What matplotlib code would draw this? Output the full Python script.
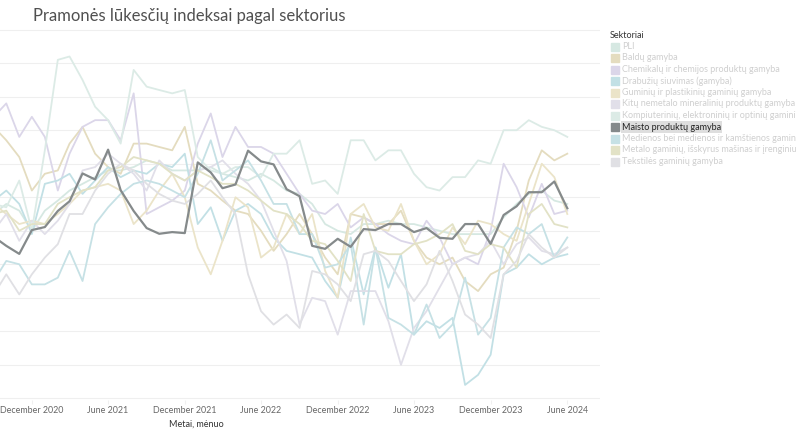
import pandas as pd
import matplotlib.pyplot as plt
import matplotlib.dates as mdates

plt.rcParams['font.family'] = ['Lato', 'DejaVu Sans']

# monthly index values, Sep 2020 - Jun 2024
months = pd.date_range("2020-09-01", "2024-06-01", freq="MS")

pli = [-5, -2, -4, -10, -4, -1, 2, 4, 6, 8, 8, 9, 11, 10, 8, 8, 8, 9, 7, 6, 5, 7, 5, 2, 1, -2,
       -8, -10, -11, -8, -8, -7, -8, -8, -9, -10, -11, -11, -11, -11, -6, -2, 1, 2, -1, -2]
baldu = [21, 17, 12, 2, 7, 8, 16, 21, 13, 9, 7, 16, 16, 15, 14, 21, 4, 2, -1, -4, -5, -10, -16,
         -11, -5, -11, -18, -23, -5, -6, -8, -8, -4, -13, -18, -20, -18, -25, -28, -23, -21, -10,
         5, 14, 11, 13]
chemikalu = [24, 28, 18, 24, 18, 2, 13, 21, 23, 23, 17, 31, -5, -3, -1, 2, 16, 25, 12, 21, 15,
             15, 13, 7, 1, -4, -5, -2, -9, -6, -8, -11, -13, -14, -7, -12, -20, -18, -20, -10,
             10, 3, -6, 4, -5, -4]
drabuziu = [-1, 2, -2, -11, 4, 5, 7, 1, 5, 9, 6, 8, 7, 10, 9, 13, -8, -3, -13, -4, -2, -5,
            -12, -16, -17, -18, -25, -30, -12, -29, -15, -27, -17, -41, -37, -39, -36, -56, -53,
            -47, -23, -21, -17, -20, -18, -17]
guminiu = [-2, -5, -8, -7, -8, -5, -2, 2, 3, 4, 2, -8, -4, 2, 7, 0, -15, -23, -13, 0, -3, -18,
           -15, -5, -11, -5, -22, -30, -5, -2, -9, -10, -2, -13, -20, -17, -9, -14, -7, -8, -11,
           -13, -2, 10, 6, -5]
kitu_nemetalo = [-10, -5, -13, -7, -11, -7, -2, 8, 9, 13, 10, 7, 2, 11, 7, 5, 8, 9, 11, 7, 4,
                 -1, -10, -19, -38, -30, -31, -41, -28, -28, -28, -37, -50, -39, -34, -27, -20,
                 -18, -17, -13, -20, -14, -12, -16, -17, -15]
kompiuteriniu = [-2, -3, 5, -10, 14, 41, 42, 35, 27, 23, 16, 38, 33, 32, 31, 32, 12, 8, 7, 9, 9,
                 6, 13, 13, 17, 4, 5, 1, 17, 17, 11, 14, 14, 7, 3, 2, 6, 6, 11, 10, 20, 20, 23,
                 21, 20, 18]
maisto = [-11.8, -14.5, -16.9, -9.8, -8.9, -4.1, -1.2, 7.1, 5.3, 14.2, 2.1, -4.1, -9.2, -10.9,
          -10.4, -10.7, 10.4, 7.4, 2.7, 3.8, 13.9, 10.7, 9.8, 2.4, 0.3, -14.5, -15.4, -12.4,
          -14.8, -9.5, -9.8, -8.0, -8.0, -10.4, -9.2, -12.1, -12.4, -8.0, -8.0, -13.9, -5.3,
          -2.7, 1.5, 1.5, 4.7, -3.3]
medienos = [-25, -19, -20, -26, -26, -24, -16, -25, -8, -3, 1, 4, 5, 4, 2, 0, 7, 17, 5, 8, 11,
            5, -2, -2, -11, -11, -21, -20, -14, -38, -15, -36, -38, -41, -32, -42, -38, -24, -41,
            -36, -15, -9, -11, -8, -18, -12]
metalo = [-5, -4, -10, -8, -8, -2, 0, 2, 3, 8, 9, 12, 11, 10, 7, 5, 8, 6, 4, 4, 2, -1, -4, -5,
          -8, -13, -14, -19, -25, -5, -16, -17, -17, -14, -13, -11, -8, -16, -17, -14, -15, -21,
          -5, -2, -8, -9]
tekstiles = [-29, -23, -29, -23, -18, -14, -5, -5, 2, 7, 10, 8, 4, 1, -1, -2, 1, 5, 0, -5, -23,
             -34, -38, -35, -39, -22, -23, -26, -31, -17, -16, -19, -25, -31, -26, -16, -25, -35,
             -38, -42, -23, -19, -11, -15, -18, -15]

sectors = ["PLI", "Baldų gamyba", "Chemikalų ir chemijos produktų gamyba",
           "Drabužių siuvimas (gamyba)", "Guminių ir plastikinių gaminių gamyba",
           "Kitų nemetalo mineralinių produktų gamyba",
           "Kompiuterinių, elektroninių ir optinių gaminių gamyba",
           "Maisto produktų gamyba", "Medienos bei medienos ir kamštienos gaminių gamyba",
           "Metalo gaminių, išskyrus mašinas ir įrenginius, gamyba",
           "Tekstilės gaminių gamyba"]
series = [pli, baldu, chemikalu, drabuziu, guminiu, kitu_nemetalo, kompiuteriniu,
          maisto, medienos, metalo, tekstiles]
colors = ["#d6e8e2", "#e4dcbf", "#dbd6e9", "#c2e0e5", "#ebe4c9", "#e1dfe9",
          "#dcebe6", "#858a8b", "#c6e1e5", "#e2e2c6", "#e0e0e4"]
highlight = "Maisto produktų gamyba"

fig = plt.figure(figsize=(7.96, 4.33), dpi=100)
ax = fig.add_axes([0, 33 / 433, 600 / 796, 372 / 433])

for name, vals, c in zip(sectors, series, colors):
    if name == highlight:
        continue
    ax.plot(months, vals, color=c, lw=1.3, zorder=2)
ax.plot(months, maisto, color=colors[7], lw=1.6, zorder=3)

ax.set_ylim(-60.5, 50.5)
ax.set_yticks(range(-60, 51, 10))
ax.set_xlim(pd.Timestamp("2020-09-16"), pd.Timestamp("2024-08-18"))
ticks = pd.date_range("2020-12-01", "2024-06-01", freq="6MS")
ax.set_xticks(ticks)
ax.xaxis.set_major_formatter(mdates.DateFormatter("%B %Y"))
ax.tick_params(axis="x", length=3, color="#f0f0f0", labelsize=6.4, labelcolor="#666666", pad=1)
ax.tick_params(axis="y", length=0, labelleft=False)
ax.grid(axis="y", color="#efefef", lw=0.8)
for s in ax.spines.values():
    s.set_visible(False)

fig.text(33 / 796, 1 - 16 / 433, "Pramonės lūkesčių indeksai pagal sektorius",
         fontsize=12, color="#505050", va="center")
fig.text(196 / 796, 1 - 424 / 433, "Metai, mėnuo", fontsize=6.5, color="#333333",
         ha="center", va="center")

# legend
fig.text(610 / 796, 1 - 35 / 433, "Sektoriai", fontsize=6.5, color="#333333", va="center")
for i, (name, c) in enumerate(zip(sectors, colors)):
    y = 1 - (46.5 + i * 11.5) / 433
    dark = name == highlight
    fig.patches.append(plt.Rectangle((611 / 796, y - 4 / 433), 8 / 796, 8 / 433,
                                     transform=fig.transFigure, color=c, figure=fig))
    fig.text(622 / 796, y, name, fontsize=6.5, va="center",
             color="#222222" if dark else "#cfcfcf",
             bbox=dict(boxstyle="square,pad=0.15", fc="#dedede", ec="none") if dark else None)

plt.savefig("out.png", dpi=100)
